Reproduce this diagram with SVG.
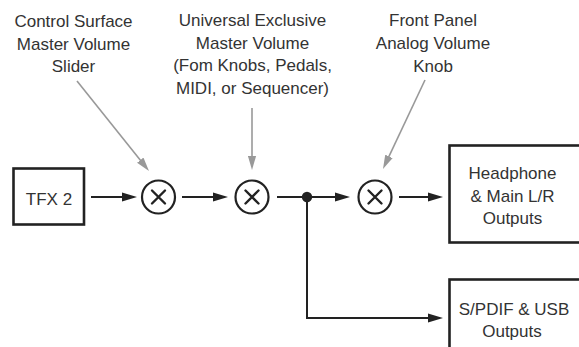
<svg xmlns="http://www.w3.org/2000/svg" width="579" height="347" viewBox="0 0 579 347">
<style>
text{font-family:"Liberation Sans",Arial,sans-serif;font-size:17px;fill:#333;text-anchor:middle}
.box{fill:#fff;stroke:#222;stroke-width:2.6}
.mul circle{fill:#fff;stroke:#222;stroke-width:2.2}
.mul path{stroke:#222;stroke-width:2.4;fill:none;stroke-linecap:round}
.wire{stroke:#222;stroke-width:2;fill:none}
.ctl{stroke:#999;stroke-width:1.6;fill:none}
</style>
<defs>
<marker id="ab" viewBox="0 0 15 10" refX="5" refY="5" markerWidth="15" markerHeight="10" markerUnits="userSpaceOnUse" orient="auto">
<path d="M0,0.6 L15,5 L0,9.4 Z" fill="#222"/>
</marker>
<marker id="ag" viewBox="0 0 14 9" refX="6" refY="4.5" markerWidth="14" markerHeight="9" markerUnits="userSpaceOnUse" orient="auto">
<path d="M0,0.4 L14,4.5 L0,8.6 Z" fill="#999"/>
</marker>
</defs>

<g id="label-control-surface">
<text x="73.5" y="27">Control Surface</text>
<text x="73.5" y="49.5">Master Volume</text>
<text x="73.5" y="72">Slider</text>
</g>
<g id="label-universal-exclusive">
<text x="252.5" y="26">Universal Exclusive</text>
<text x="252.5" y="48.5">Master Volume</text>
<text x="252.5" y="71">(Fom Knobs, Pedals,</text>
<text x="252.5" y="93.5">MIDI, or Sequencer)</text>
</g>
<g id="label-front-panel">
<text x="433" y="26">Front Panel</text>
<text x="433" y="49">Analog Volume</text>
<text x="433" y="72">Knob</text>
</g>

<g id="connectors">
<path class="ctl" d="M77,81 L144,164.8" marker-end="url(#ag)"/>
<path class="ctl" d="M252,108 L252,162" marker-end="url(#ag)"/>
<path class="ctl" d="M425,80 L386.4,161.8" marker-end="url(#ag)"/>
<path class="wire" d="M91,197 H127" marker-end="url(#ab)"/>
<path class="wire" d="M182,197 H218" marker-end="url(#ab)"/>
<path class="wire" d="M277,197 H340" marker-end="url(#ab)"/>
<path class="wire" d="M399,197 H433" marker-end="url(#ab)"/>
<path class="wire" d="M307,197 V318 H433" marker-end="url(#ab)"/>
<circle cx="307" cy="197" r="5.2" fill="#222"/>
</g>

<g id="tfx2">
<rect class="box" x="13.5" y="168.5" width="70.5" height="56"/>
<text x="49" y="205">TFX 2</text>
</g>
<g id="mul1" class="mul">
<circle cx="158.5" cy="197" r="16.5"/>
<path d="M152,190.5 L165,203.5 M165,190.5 L152,203.5"/>
</g>
<g id="mul2" class="mul">
<circle cx="252" cy="197" r="16.5"/>
<path d="M245.5,190.5 L258.5,203.5 M258.5,190.5 L245.5,203.5"/>
</g>
<g id="mul3" class="mul">
<circle cx="375" cy="197" r="16.5"/>
<path d="M368.5,190.5 L381.5,203.5 M381.5,190.5 L368.5,203.5"/>
</g>
<g id="headphone-outputs">
<rect class="box" x="449.5" y="145.5" width="140" height="97"/>
<text x="512.5" y="178.5">Headphone</text>
<text x="512.5" y="201.5">&amp; Main L/R</text>
<text x="512.5" y="224">Outputs</text>
</g>
<g id="spdif-usb-outputs">
<rect class="box" x="449.5" y="279.5" width="140" height="90"/>
<text x="514" y="315">S/PDIF &amp; USB</text>
<text x="512" y="337">Outputs</text>
</g>
</svg>
